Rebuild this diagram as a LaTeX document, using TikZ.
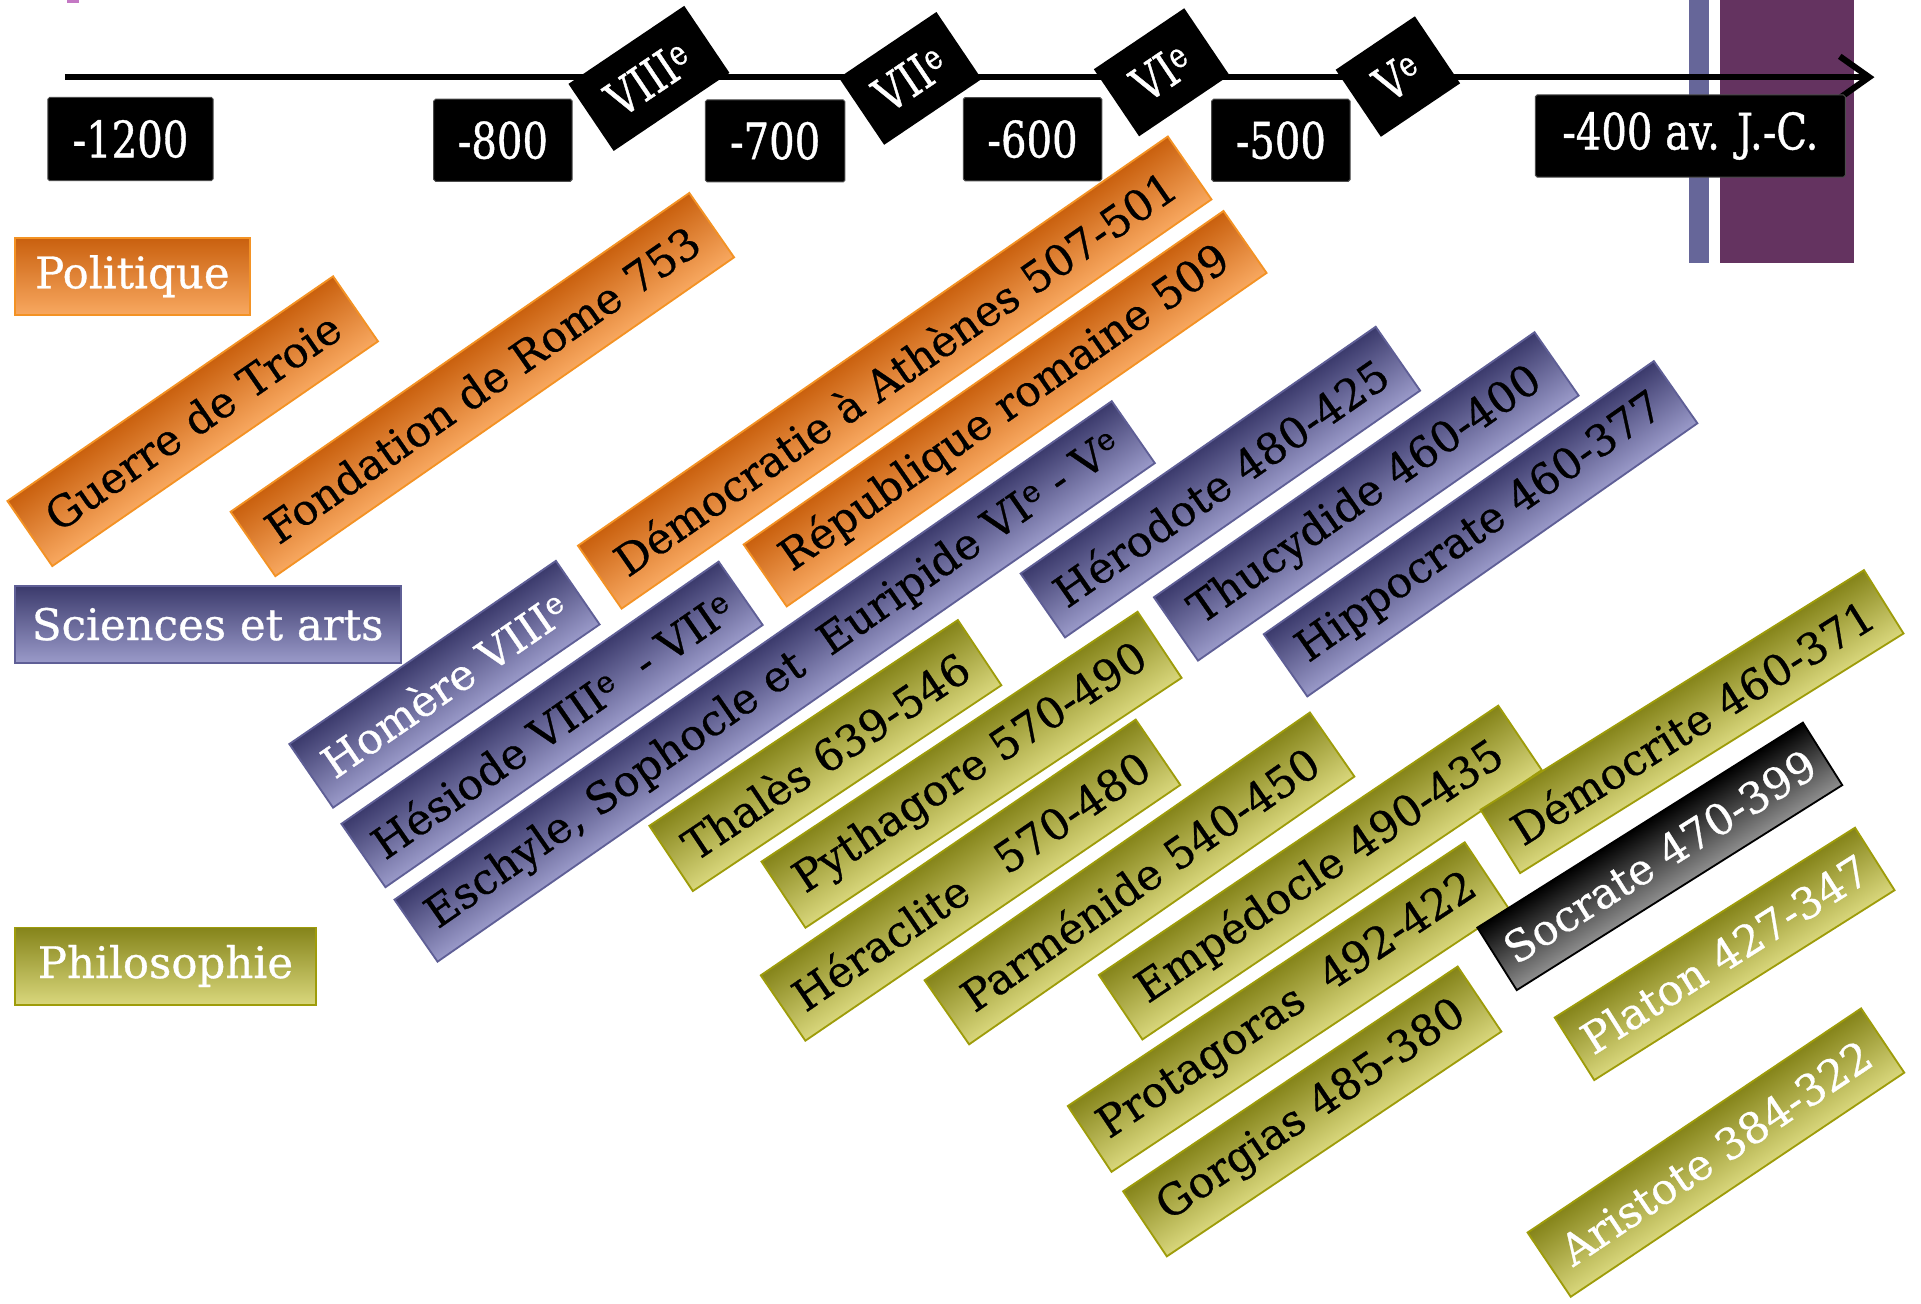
\documentclass[tikz,border=0pt]{standalone}
\usepackage{fontspec}
\setmainfont{DejaVu Serif}
\newfontfamily\condfont[FakeStretch=0.8,FakeBold=0.8]{DejaVu Serif}
\newfontfamily\boxfont[FakeBold=0.7]{DejaVu Serif}
\usetikzlibrary{arrows.meta}
\definecolor{orT}{HTML}{C9600E}
\definecolor{orB}{HTML}{F8A860}
\definecolor{orD}{HTML}{F39224}
\definecolor{blT}{HTML}{3B3A6C}
\definecolor{blB}{HTML}{9A9AC9}
\definecolor{blD}{HTML}{5F5F96}
\definecolor{olT}{HTML}{85841A}
\definecolor{olB}{HTML}{D9D77C}
\definecolor{olD}{HTML}{9E9C0A}
\definecolor{soB}{HTML}{8F8F8F}
\definecolor{barA}{HTML}{666699}
\definecolor{barB}{HTML}{643360}
\definecolor{pinkmark}{HTML}{C478C4}
\begin{document}
\begin{tikzpicture}[x=1pt,y=-1pt,
  yearbox/.style={fill=black, draw=black!70, line width=0.8pt, rounded corners=1.5pt, inner sep=0pt, text=white,
     font=\condfont\fontsize{41}{44}\selectfont},
  centbox/.style={fill=black, inner sep=0pt, text=white, minimum height=66pt,
     font=\condfont\fontsize{40}{44}\selectfont},
  rbox/.style={line width=1.5pt, inner sep=0pt, minimum height=63pt, align=center,
     font=\boxfont\fontsize{35}{40}\selectfont},
  orbox/.style={rbox, draw=orD, top color=orT, bottom color=orB},
  blbox/.style={rbox, draw=blD, top color=blT, bottom color=blB},
  olbox/.style={rbox, draw=olD, top color=olT, bottom color=olB},
  sobox/.style={rbox, draw=black, top color=black, bottom color=soB},
  catbox/.style={inner sep=0pt, minimum height=63pt, text=white, line width=1.5pt, font=\boxfont\fontsize{35.5}{38}\selectfont},
  at box/.style={transform canvas={shift={#1}}}
]
\useasboundingbox (0,0) rectangle (1568,1064);
% decorations
\fill[pinkmark] (55,0) rectangle (64.5,2.5);
\fill[barA] (1379,0) rectangle (1395,215);
\fill[barB] (1404,0) rectangle (1513,215);
% axis
\coordinate (axs) at (53,63);
\coordinate (axe) at (1530,63);
\draw[line width=5pt, -{Straight Barb[length=24pt,width=34pt]}] (axs) -- (axe);
% years
\node[yearbox, minimum width=135pt, minimum height=68pt] (y1200) at (106.5,113.5) {-1200};
\node[yearbox, minimum width=113pt, minimum height=67pt] (y800) at (410.5,114.5) {-800};
\node[yearbox, minimum width=114pt, minimum height=67pt] (y700) at (632.7,115) {-700};
\node[yearbox, minimum width=113pt, minimum height=68pt] (y600) at (842.8,113.6) {-600};
\node[yearbox, minimum width=113pt, minimum height=67pt] (y500) at (1045.5,114.5) {-500};
\node[yearbox, minimum width=253pt, minimum height=67pt] (y400) at (1379.7,111) {-400 av. J.-C.};
% centuries
\node[centbox, rotate=34, minimum width=114pt] (c8) at (529.7,64) {VIII\textsuperscript{e}};
\node[centbox, rotate=34, minimum width=96pt] (c7) at (743,64) {VII\textsuperscript{e}};
\node[centbox, rotate=34, minimum width=89pt] (c6) at (948.2,59) {VI\textsuperscript{e}};
\node[centbox, rotate=34, minimum width=78pt] (c5) at (1141,62.5) {V\textsuperscript{e}};
% categories
\node[catbox, draw=orD, top color=orT, bottom color=orB, minimum width=192pt] (pol) at (108,225.5) {Politique};
\node[catbox, draw=blD, top color=blT, bottom color=blB, minimum width=315pt] (sci) at (169.5,509.5) {Sciences et arts};
\node[catbox, draw=olD, top color=olT, bottom color=olB, minimum width=246pt] (phi) at (135,788.5) {Philosophie};
% politique
\begin{scope}[transform canvas={shift={(157.3,343.8)}, rotate=34.6}]
\node[orbox, minimum width=323pt, minimum height=64.5pt] (guerre) at (0,0) {Guerre de Troie};
\end{scope}
\begin{scope}[transform canvas={shift={(393.7,313.9)}, rotate=34.8}]
\node[orbox, minimum width=456pt, minimum height=64pt] (rome) at (0,0) {Fondation de Rome 753};
\end{scope}
\begin{scope}[transform canvas={shift={(730.3,304.1)}, rotate=34.75}]
\node[orbox, minimum width=586pt, minimum height=62.5pt] (demo) at (0,0) {Démocratie à Athènes 507-501};
\end{scope}
\begin{scope}[transform canvas={shift={(820.4,333.6)}, rotate=34.8}]
\node[orbox, minimum width=477pt, minimum height=61.6pt] (rep) at (0,0) {République romaine 509};
\end{scope}
% sciences et arts
\begin{scope}[transform canvas={shift={(362.8,558.5)}, rotate=34.5}]
\node[blbox, minimum width=264pt, text=white] (homere) at (0,0) {Homère VIII\textsuperscript{e}};
\end{scope}
\begin{scope}[transform canvas={shift={(450.6,591.3)}, rotate=34.8}]
\node[blbox, minimum width=375pt] (hesiode) at (0,0) {Hésiode VIII\textsuperscript{e}\ \ - VII\textsuperscript{e}};
\end{scope}
\begin{scope}[transform canvas={shift={(632.3,556.2)}, rotate=34.8}]
\node[blbox, minimum width=713pt, minimum height=61.6pt] (eschyle) at (0,0) {Eschyle, Sophocle et\ \ Euripide VI\textsuperscript{e} - V\textsuperscript{e}};
\end{scope}
\begin{scope}[transform canvas={shift={(996.1,393.5)}, rotate=34.8}]
\node[blbox, minimum width=353pt, minimum height=63.5pt] (herodote) at (0,0) {Hérodote 480-425};
\end{scope}
\begin{scope}[transform canvas={shift={(1115.2,405.2)}, rotate=34.85}]
\node[blbox, minimum width=378.6pt] (thucydide) at (0,0) {Thucydide 460-400};
\end{scope}
\begin{scope}[transform canvas={shift={(1208.5,431.6)}, rotate=35}]
\node[blbox, minimum width=388.7pt, minimum height=62pt] (hippocrate) at (0,0) {Hippocrate 460-377};
\end{scope}
% philosophie
\begin{scope}[transform canvas={shift={(673.7,616.7)}, rotate=33.7}]
\node[olbox, minimum width=302.7pt, minimum height=64pt] (thales) at (0,0) {Thalès 639-546};
\end{scope}
\begin{scope}[transform canvas={shift={(793,628.3)}, rotate=33.6}]
\node[olbox, minimum width=368.6pt, minimum height=64.8pt] (pythagore) at (0,0) {Pythagore 570-490};
\end{scope}
\begin{scope}[transform canvas={shift={(792.2,718.4)}, rotate=34.3}]
\node[olbox, minimum width=370.5pt, minimum height=64.6pt] (heraclite) at (0,0) {Héraclite\ \ \ 570-480};
\end{scope}
\begin{scope}[transform canvas={shift={(930.1,717)}, rotate=34.8}]
\node[olbox, minimum width=383pt, minimum height=63.7pt] (parmenide) at (0,0) {Parménide 540-450};
\end{scope}
\begin{scope}[transform canvas={shift={(1077.7,712.2)}, rotate=34}]
\node[olbox, minimum width=393.2pt, minimum height=63.5pt] (empedocle) at (0,0) {Empédocle 490-435};
\end{scope}
\begin{scope}[transform canvas={shift={(1051.4,822)}, rotate=33.6}]
\node[olbox, minimum width=389pt, minimum height=64.5pt] (protagoras) at (0,0) {Protagoras\ \ 492-422};
\end{scope}
\begin{scope}[transform canvas={shift={(1071.1,907.2)}, rotate=33.9}]
\node[olbox, minimum width=329pt, minimum height=64pt] (gorgias) at (0,0) {Gorgias 485-380};
\end{scope}
\begin{scope}[transform canvas={shift={(1381.1,589)}, rotate=32}]
\node[olbox, minimum width=369pt, minimum height=61pt] (democrite) at (0,0) {Démocrite 460-371};
\end{scope}
\begin{scope}[transform canvas={shift={(1354.8,699)}, rotate=32.2}]
\node[sobox, minimum width=314pt, minimum height=60.3pt, text=white] (socrate) at (0,0) {Socrate 470-399};
\end{scope}
\begin{scope}[transform canvas={shift={(1407.7,778.6)}, rotate=32.3}]
\node[olbox, minimum width=290pt, minimum height=60.4pt, text=white] (platon) at (0,0) {Platon 427-347};
\end{scope}
\begin{scope}[transform canvas={shift={(1400.6,940.8)}, rotate=33.9}]
\node[olbox, minimum width=328pt, minimum height=63.2pt, text=white] (aristote) at (0,0) {Aristote 384-322};
\end{scope}
\end{tikzpicture}
\end{document}
